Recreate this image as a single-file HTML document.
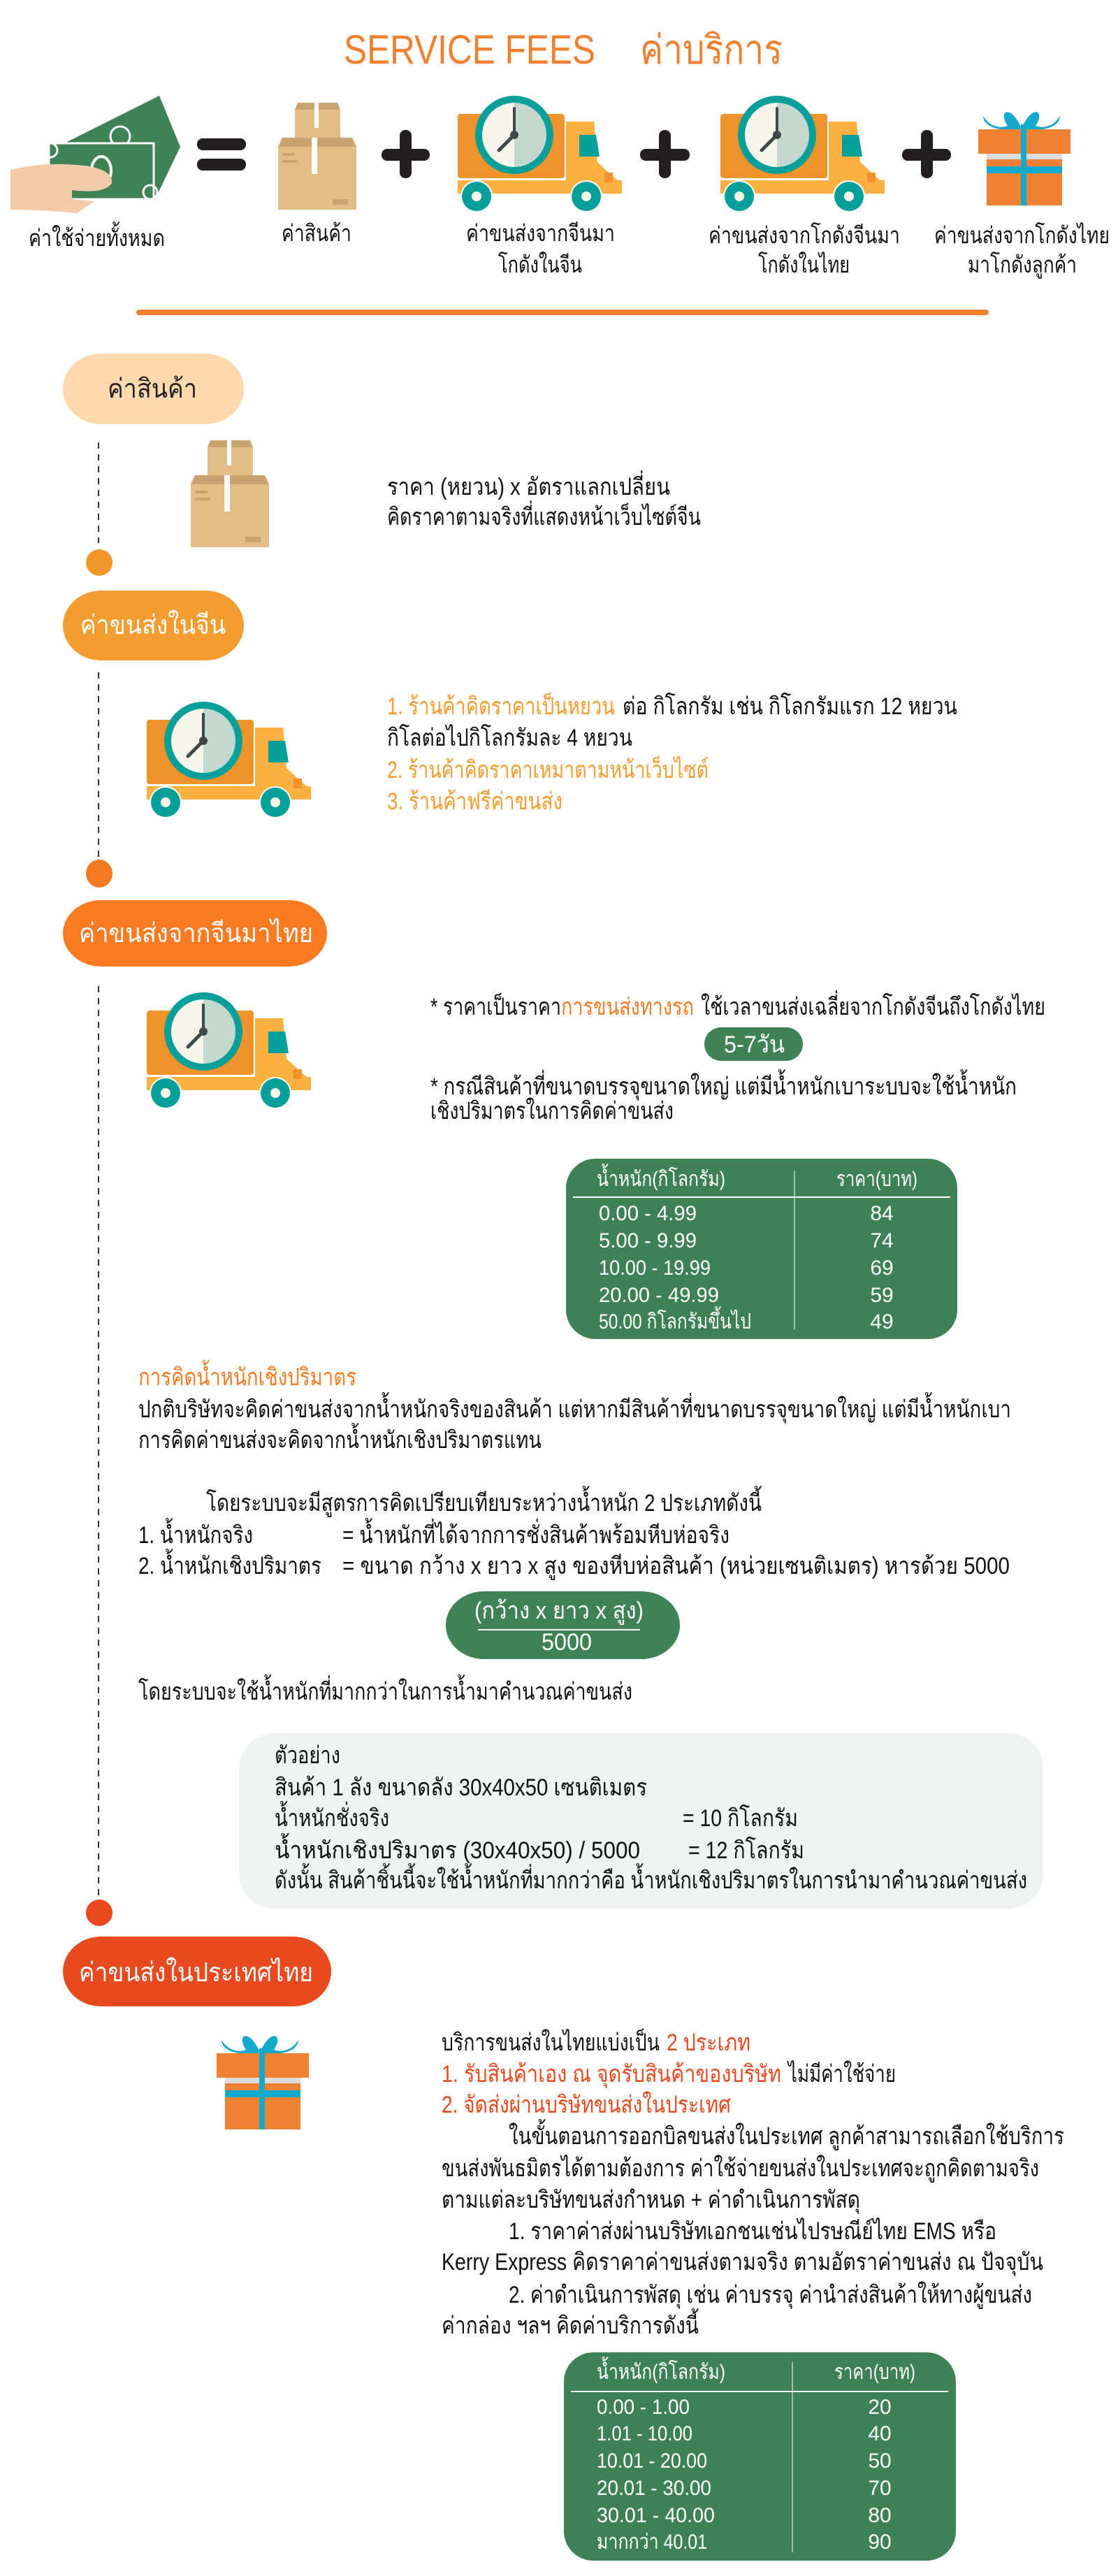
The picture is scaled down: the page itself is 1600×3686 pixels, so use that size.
<!DOCTYPE html>
<html><head><meta charset="utf-8"><style>
html,body{margin:0;padding:0;background:#fff;}
svg{display:block;}
text{font-family:"Liberation Sans Narrow","Liberation Sans","Noto Sans CJK SC",sans-serif;}
</style></head><body>
<svg width="1600" height="3686" viewBox="0 0 1600 3686" xmlns="http://www.w3.org/2000/svg">
<defs>
<g id="truck">
  <rect x="0" y="26" width="153" height="92" rx="4" fill="#f0932b"/>
  <path d="M155 37 H195 L200 95 L233 125 V130 H155 Z" fill="#fbb040"/>
  <path d="M174 56 H198 L203 87 H174 Z" fill="#079f9a"/>
  <rect x="0" y="121" width="235" height="19" fill="#fbb040"/>
  <rect x="210" y="110" width="12" height="14" fill="#f0932b"/>
  <circle cx="27" cy="144" r="23" fill="#fff"/>
  <circle cx="27" cy="144" r="21" fill="#079f9a"/><circle cx="27" cy="144" r="7" fill="#f7f5ea"/>
  <circle cx="184" cy="144" r="23" fill="#fff"/>
  <circle cx="184" cy="144" r="21" fill="#079f9a"/><circle cx="184" cy="144" r="7" fill="#f7f5ea"/>
  <circle cx="81" cy="56" r="56" fill="#079f9a"/>
  <path d="M81 10 A46 46 0 0 0 81 102 Z" fill="#f7f5ea"/>
  <path d="M81 10 A46 46 0 0 1 81 102 Z" fill="#c5d8d0"/>
  <line x1="81" y1="56" x2="81" y2="18" stroke="#3d4a4a" stroke-width="4" stroke-linecap="round"/>
  <line x1="81" y1="56" x2="59" y2="78" stroke="#3d4a4a" stroke-width="5" stroke-linecap="round"/>
  <circle cx="81" cy="56" r="6" fill="#3d4a4a"/>
</g>
<g id="boxes">
  <rect x="24" y="10" width="65" height="55" fill="#e3bd86"/>
  <path d="M24 10 L28 0 H85 L89 10 Z" fill="#c9a470"/>
  <rect x="52" y="0" width="6" height="36" fill="#fff"/>
  <rect x="0" y="63" width="112" height="90" fill="#e3bd86"/>
  <path d="M0 63 L6 50 H106 L112 63 Z" fill="#c9a470"/>
  <rect x="48" y="50" width="8" height="52" fill="#fff"/>
  <rect x="6" y="72" width="18" height="4" fill="#c9a470"/><rect x="6" y="82" width="22" height="4" fill="#c9a470"/>
  <rect x="78" y="138" width="22" height="8" fill="#c9a470"/>
</g>
<g id="gift">
  <path d="M75 36 C60 0 40 10 55 32 C45 36 30 34 20 18 C20 30 35 40 70 38 Z" fill="#12a9cc"/>
  <path d="M75 36 C90 0 110 10 95 32 C105 36 120 34 130 18 C130 30 115 40 80 38 Z" fill="#12a9cc"/>
  <rect x="13" y="37" width="132" height="35" fill="#ef8132"/>
  <rect x="25" y="72" width="108" height="8" fill="#dcdcdc"/>
  <rect x="25" y="80" width="108" height="66" fill="#ef8132"/>
  <rect x="25" y="90" width="108" height="10" fill="#12a9cc"/>
  <rect x="74" y="30" width="8" height="116" fill="#12a9cc"/>
</g>
</defs>

<!-- Header -->
<text x="492" y="91" font-size="58" fill="#f07f2f" textLength="360" lengthAdjust="spacingAndGlyphs">SERVICE FEES</text>
<text x="916" y="91" font-size="58" fill="#f07f2f" textLength="204" lengthAdjust="spacingAndGlyphs">ค่าบริการ</text>

<!-- money -->
<g>
  <path d="M92 205 L228 137 L258 210 L222 285 L92 285 Z" fill="#3e8256"/>
  <circle cx="172" cy="195" r="14" fill="none" stroke="#fff" stroke-width="3"/>
  <rect x="70" y="205" width="150" height="80" fill="#3e8256" stroke="#fff" stroke-width="3"/>
  <ellipse cx="145" cy="244" rx="14" ry="20" fill="none" stroke="#fff" stroke-width="4"/>
  <circle cx="72" cy="215" r="10" fill="none" stroke="#fff" stroke-width="3"/>
  <circle cx="215" cy="275" r="10" fill="none" stroke="#fff" stroke-width="3"/>
  <path d="M15 243 Q60 232 110 236 Q162 240 160 262 Q150 278 103 272 L103 285 L135 288 L110 305 Q60 300 15 300 Z" fill="#f3cba8"/>
</g>
<!-- = -->
<rect x="282" y="198" width="70" height="17" rx="8" fill="#231f20"/>
<rect x="282" y="227" width="70" height="17" rx="8" fill="#231f20"/>
<use href="#boxes" x="398" y="147"/>
<g fill="#231f20">
 <rect x="546" y="213" width="69" height="17" rx="8"/><rect x="572" y="186" width="17" height="69" rx="8"/>
 <rect x="916" y="213" width="71" height="17" rx="8"/><rect x="943" y="186" width="17" height="69" rx="8"/>
 <rect x="1291" y="213" width="70" height="17" rx="8"/><rect x="1318" y="186" width="17" height="69" rx="8"/>
</g>
<use href="#truck" x="655" y="137"/>
<use href="#truck" x="1031" y="137"/>
<use href="#gift" x="1387" y="148"/>

<g font-size="33" fill="#111">
<text x="41" y="352" textLength="195" lengthAdjust="spacingAndGlyphs">ค่าใช้จ่ายทั้งหมด</text>
<text x="403" y="345" textLength="100" lengthAdjust="spacingAndGlyphs">ค่าสินค้า</text>
<text x="667" y="345" textLength="213" lengthAdjust="spacingAndGlyphs">ค่าขนส่งจากจีนมา</text>
<text x="713" y="390" textLength="120" lengthAdjust="spacingAndGlyphs">โกดังในจีน</text>
<text x="1014" y="348" textLength="274" lengthAdjust="spacingAndGlyphs">ค่าขนส่งจากโกดังจีนมา</text>
<text x="1085" y="390" textLength="131" lengthAdjust="spacingAndGlyphs">โกดังในไทย</text>
<text x="1337" y="348" textLength="251" lengthAdjust="spacingAndGlyphs">ค่าขนส่งจากโกดังไทย</text>
<text x="1385" y="390" textLength="156" lengthAdjust="spacingAndGlyphs">มาโกดังลูกค้า</text>
</g>
<rect x="195" y="443" width="1220" height="8" rx="4" fill="#f07f2f"/>

<!-- timeline -->
<g stroke="#333" stroke-width="2" stroke-dasharray="9 8">
<line x1="141" y1="633" x2="141" y2="777"/>
<line x1="141" y1="962" x2="141" y2="1228"/>
<line x1="141" y1="1411" x2="141" y2="2716"/>
</g>
<ellipse cx="142" cy="805" rx="19" ry="19" fill="#f0962a"/>
<ellipse cx="142" cy="1250" rx="19" ry="20" fill="#f47a24"/>
<ellipse cx="142" cy="2737" rx="19" ry="19" fill="#e9481f"/>

<!-- pills -->
<rect x="90" y="506" width="259" height="101" rx="55" ry="50" fill="#fdd9ad"/>
<text x="154" y="569" font-size="38" fill="#222" textLength="128" lengthAdjust="spacingAndGlyphs">ค่าสินค้า</text>
<rect x="90" y="845" width="259" height="100" rx="55" ry="50" fill="#f39c2f"/>
<text x="115" y="907" font-size="38" fill="#fff" textLength="208" lengthAdjust="spacingAndGlyphs">ค่าขนส่งในจีน</text>
<rect x="90" y="1288" width="378" height="95" rx="55" ry="48" fill="#fb7a22"/>
<text x="113" y="1348" font-size="38" fill="#fff" textLength="335" lengthAdjust="spacingAndGlyphs">ค่าขนส่งจากจีนมาไทย</text>
<rect x="90" y="2771" width="384" height="100" rx="55" ry="50" fill="#e8491e"/>
<text x="113" y="2835" font-size="38" fill="#fff" textLength="335" lengthAdjust="spacingAndGlyphs">ค่าขนส่งในประเทศไทย</text>

<!-- section1 -->
<use href="#boxes" x="273" y="630"/>
<g font-size="34" fill="#111">
<text x="554" y="708" textLength="405" lengthAdjust="spacingAndGlyphs">ราคา (หยวน) x อัตราแลกเปลี่ยน</text>
<text x="554" y="751" textLength="449" lengthAdjust="spacingAndGlyphs">คิดราคาตามจริงที่แสดงหน้าเว็บไซต์จีน</text>
</g>

<!-- section2 -->
<use href="#truck" x="210" y="1004"/>
<g font-size="34" fill="#111">
<text x="554" y="1022" fill="#f39c2f" textLength="326" lengthAdjust="spacingAndGlyphs">1. ร้านค้าคิดราคาเป็นหยวน</text>
<text x="891" y="1022" textLength="479" lengthAdjust="spacingAndGlyphs">ต่อ กิโลกรัม เช่น กิโลกรัมแรก 12 หยวน</text>
<text x="554" y="1067" textLength="351" lengthAdjust="spacingAndGlyphs">กิโลต่อไปกิโลกรัมละ 4 หยวน</text>
<text x="554" y="1113" fill="#f39c2f" textLength="460" lengthAdjust="spacingAndGlyphs">2. ร้านค้าคิดราคาเหมาตามหน้าเว็บไซต์</text>
<text x="554" y="1158" fill="#f39c2f" textLength="251" lengthAdjust="spacingAndGlyphs">3. ร้านค้าฟรีค่าขนส่ง</text>
</g>

<!-- section3 -->
<use href="#truck" x="210" y="1420"/>
<g font-size="34" fill="#111">
<text x="616" y="1452" textLength="187" lengthAdjust="spacingAndGlyphs">* ราคาเป็นราคา</text>
<text x="803" y="1452" fill="#f57b22" textLength="190" lengthAdjust="spacingAndGlyphs">การขนส่งทางรถ</text>
<text x="1003" y="1452" textLength="493" lengthAdjust="spacingAndGlyphs">ใช้เวลาขนส่งเฉลี่ยจากโกดังจีนถึงโกดังไทย</text>
<text x="616" y="1566" textLength="839" lengthAdjust="spacingAndGlyphs">* กรณีสินค้าที่ขนาดบรรจุขนาดใหญ่ แต่มีน้ำหนักเบาระบบจะใช้น้ำหนัก</text>
<text x="616" y="1601" textLength="348" lengthAdjust="spacingAndGlyphs">เชิงปริมาตรในการคิดค่าขนส่ง</text>
</g>
<rect x="1008" y="1470" width="141" height="48" rx="24" fill="#3e8256"/>
<text x="1036" y="1506" font-size="34" fill="#fff" textLength="87" lengthAdjust="spacingAndGlyphs">5-7วัน</text>

<rect x="810" y="1658" width="560" height="258" rx="42" fill="#3f8156"/>
<line x1="820" y1="1713" x2="1360" y2="1713" stroke="#fff" stroke-width="2"/>
<line x1="1137" y1="1675" x2="1137" y2="1903" stroke="#fff" stroke-width="1"/>
<g font-size="30" fill="#fff">
<text x="854" y="1697" textLength="184" lengthAdjust="spacingAndGlyphs">น้ำหนัก(กิโลกรัม)</text>
<text x="1197" y="1697" textLength="116" lengthAdjust="spacingAndGlyphs">ราคา(บาท)</text>
<text x="857" y="1746" textLength="140" lengthAdjust="spacingAndGlyphs">0.00 - 4.99</text>
<text x="857" y="1785" textLength="140" lengthAdjust="spacingAndGlyphs">5.00 - 9.99</text>
<text x="857" y="1824" textLength="160" lengthAdjust="spacingAndGlyphs">10.00 - 19.99</text>
<text x="857" y="1863" textLength="172" lengthAdjust="spacingAndGlyphs">20.00 - 49.99</text>
<text x="857" y="1901" textLength="218" lengthAdjust="spacingAndGlyphs">50.00 กิโลกรัมขึ้นไป</text>
<g text-anchor="middle">
<text x="1262" y="1746">84</text><text x="1262" y="1785">74</text><text x="1262" y="1824">69</text><text x="1262" y="1863">59</text><text x="1262" y="1901">49</text>
</g>
</g>

<!-- volumetric -->
<g font-size="34" fill="#111">
<text x="198" y="1982" fill="#f57b22" textLength="312" lengthAdjust="spacingAndGlyphs">การคิดน้ำหนักเชิงปริมาตร</text>
<text x="198" y="2028" textLength="1249" lengthAdjust="spacingAndGlyphs">ปกติบริษัทจะคิดค่าขนส่งจากน้ำหนักจริงของสินค้า แต่หากมีสินค้าที่ขนาดบรรจุขนาดใหญ่ แต่มีน้ำหนักเบา</text>
<text x="198" y="2072" textLength="577" lengthAdjust="spacingAndGlyphs">การคิดค่าขนส่งจะคิดจากน้ำหนักเชิงปริมาตรแทน</text>
<text x="295" y="2162" textLength="795" lengthAdjust="spacingAndGlyphs">โดยระบบจะมีสูตรการคิดเปรียบเทียบระหว่างน้ำหนัก 2 ประเภทดังนี้</text>
<text x="198" y="2208" textLength="164" lengthAdjust="spacingAndGlyphs">1. น้ำหนักจริง</text>
<text x="490" y="2208" textLength="554" lengthAdjust="spacingAndGlyphs">= น้ำหนักที่ได้จากการชั่งสินค้าพร้อมหีบห่อจริง</text>
<text x="198" y="2252" textLength="262" lengthAdjust="spacingAndGlyphs">2. น้ำหนักเชิงปริมาตร</text>
<text x="490" y="2252" textLength="955" lengthAdjust="spacingAndGlyphs">= ขนาด กว้าง x ยาว x สูง ของหีบห่อสินค้า (หน่วยเซนติเมตร) หารด้วย 5000</text>
<text x="198" y="2432" textLength="707" lengthAdjust="spacingAndGlyphs">โดยระบบจะใช้น้ำหนักที่มากกว่าในการน้ำมาคำนวณค่าขนส่ง</text>
</g>
<rect x="638" y="2277" width="335" height="97" rx="55" ry="48" fill="#3e8256"/>
<line x1="684" y1="2332" x2="916" y2="2332" stroke="#fff" stroke-width="2"/>
<text x="679" y="2316" font-size="34" fill="#fff" textLength="242" lengthAdjust="spacingAndGlyphs">(กว้าง x ยาว x สูง)</text>
<text x="775" y="2361" font-size="34" fill="#fff" textLength="72" lengthAdjust="spacingAndGlyphs">5000</text>

<rect x="342" y="2480" width="1151" height="251" rx="50" fill="#f0f2f1"/>
<g font-size="34" fill="#111">
<text x="393" y="2523" textLength="94" lengthAdjust="spacingAndGlyphs">ตัวอย่าง</text>
<text x="393" y="2569" textLength="533" lengthAdjust="spacingAndGlyphs">สินค้า 1 ลัง ขนาดลัง 30x40x50 เซนติเมตร</text>
<text x="393" y="2613" textLength="164" lengthAdjust="spacingAndGlyphs">น้ำหนักชั่งจริง</text>
<text x="977" y="2613" textLength="165" lengthAdjust="spacingAndGlyphs">= 10 กิโลกรัม</text>
<text x="393" y="2659" textLength="523" lengthAdjust="spacingAndGlyphs">น้ำหนักเชิงปริมาตร (30x40x50) / 5000</text>
<text x="985" y="2659" textLength="166" lengthAdjust="spacingAndGlyphs">= 12 กิโลกรัม</text>
<text x="393" y="2702" textLength="1077" lengthAdjust="spacingAndGlyphs">ดังนั้น สินค้าชิ้นนี้จะใช้น้ำหนักที่มากกว่าคือ น้ำหนักเชิงปริมาตรในการนำมาคำนวณค่าขนส่ง</text>
</g>

<!-- section4 -->
<use href="#gift" x="297" y="2901"/>
<g font-size="34" fill="#111">
<text x="632" y="2934" textLength="312" lengthAdjust="spacingAndGlyphs">บริการขนส่งในไทยแบ่งเป็น</text>
<text x="954" y="2934" fill="#e8491e" textLength="120" lengthAdjust="spacingAndGlyphs">2 ประเภท</text>
<text x="632" y="2979" fill="#e8491e" textLength="486" lengthAdjust="spacingAndGlyphs">1. รับสินค้าเอง ณ จุดรับสินค้าของบริษัท</text>
<text x="1128" y="2979" textLength="154" lengthAdjust="spacingAndGlyphs">ไม่มีค่าใช้จ่าย</text>
<text x="632" y="3023" fill="#e8491e" textLength="414" lengthAdjust="spacingAndGlyphs">2. จัดส่งผ่านบริษัทขนส่งในประเทศ</text>
<text x="728" y="3068" textLength="795" lengthAdjust="spacingAndGlyphs">ในขั้นตอนการออกบิลขนส่งในประเทศ ลูกค้าสามารถเลือกใช้บริการ</text>
<text x="632" y="3114" textLength="855" lengthAdjust="spacingAndGlyphs">ขนส่งพันธมิตรได้ตามต้องการ ค่าใช้จ่ายขนส่งในประเทศจะถูกคิดตามจริง</text>
<text x="632" y="3159" textLength="599" lengthAdjust="spacingAndGlyphs">ตามแต่ละบริษัทขนส่งกำหนด + ค่าดำเนินการพัสดุ</text>
<text x="728" y="3204" textLength="698" lengthAdjust="spacingAndGlyphs">1. ราคาค่าส่งผ่านบริษัทเอกชนเช่นไปรษณีย์ไทย EMS หรือ</text>
<text x="632" y="3248" textLength="861" lengthAdjust="spacingAndGlyphs">Kerry Express คิดราคาค่าขนส่งตามจริง ตามอัตราค่าขนส่ง ณ ปัจจุบัน</text>
<text x="728" y="3295" textLength="749" lengthAdjust="spacingAndGlyphs">2. ค่าดำเนินการพัสดุ เช่น ค่าบรรจุ ค่านำส่งสินค้าให้ทางผู้ขนส่ง</text>
<text x="632" y="3339" textLength="368" lengthAdjust="spacingAndGlyphs">ค่ากล่อง ฯลฯ คิดค่าบริการดังนี้</text>
</g>

<rect x="807" y="3366" width="561" height="298" rx="42" fill="#3f8156"/>
<line x1="817" y1="3422" x2="1357" y2="3422" stroke="#fff" stroke-width="2"/>
<line x1="1134" y1="3380" x2="1134" y2="3652" stroke="#fff" stroke-width="1"/>
<g font-size="30" fill="#fff">
<text x="854" y="3404" textLength="184" lengthAdjust="spacingAndGlyphs">น้ำหนัก(กิโลกรัม)</text>
<text x="1194" y="3404" textLength="116" lengthAdjust="spacingAndGlyphs">ราคา(บาท)</text>
<text x="854" y="3454" textLength="133" lengthAdjust="spacingAndGlyphs">0.00 - 1.00</text>
<text x="854" y="3492" textLength="137" lengthAdjust="spacingAndGlyphs">1.01 - 10.00</text>
<text x="854" y="3531" textLength="158" lengthAdjust="spacingAndGlyphs">10.01 - 20.00</text>
<text x="854" y="3570" textLength="164" lengthAdjust="spacingAndGlyphs">20.01 - 30.00</text>
<text x="854" y="3609" textLength="169" lengthAdjust="spacingAndGlyphs">30.01 - 40.00</text>
<text x="854" y="3647" textLength="158" lengthAdjust="spacingAndGlyphs">มากกว่า 40.01</text>
<g text-anchor="middle">
<text x="1259" y="3454">20</text><text x="1259" y="3492">40</text><text x="1259" y="3531">50</text><text x="1259" y="3570">70</text><text x="1259" y="3609">80</text><text x="1259" y="3647">90</text>
</g>
</g>
</svg>
</body></html>
